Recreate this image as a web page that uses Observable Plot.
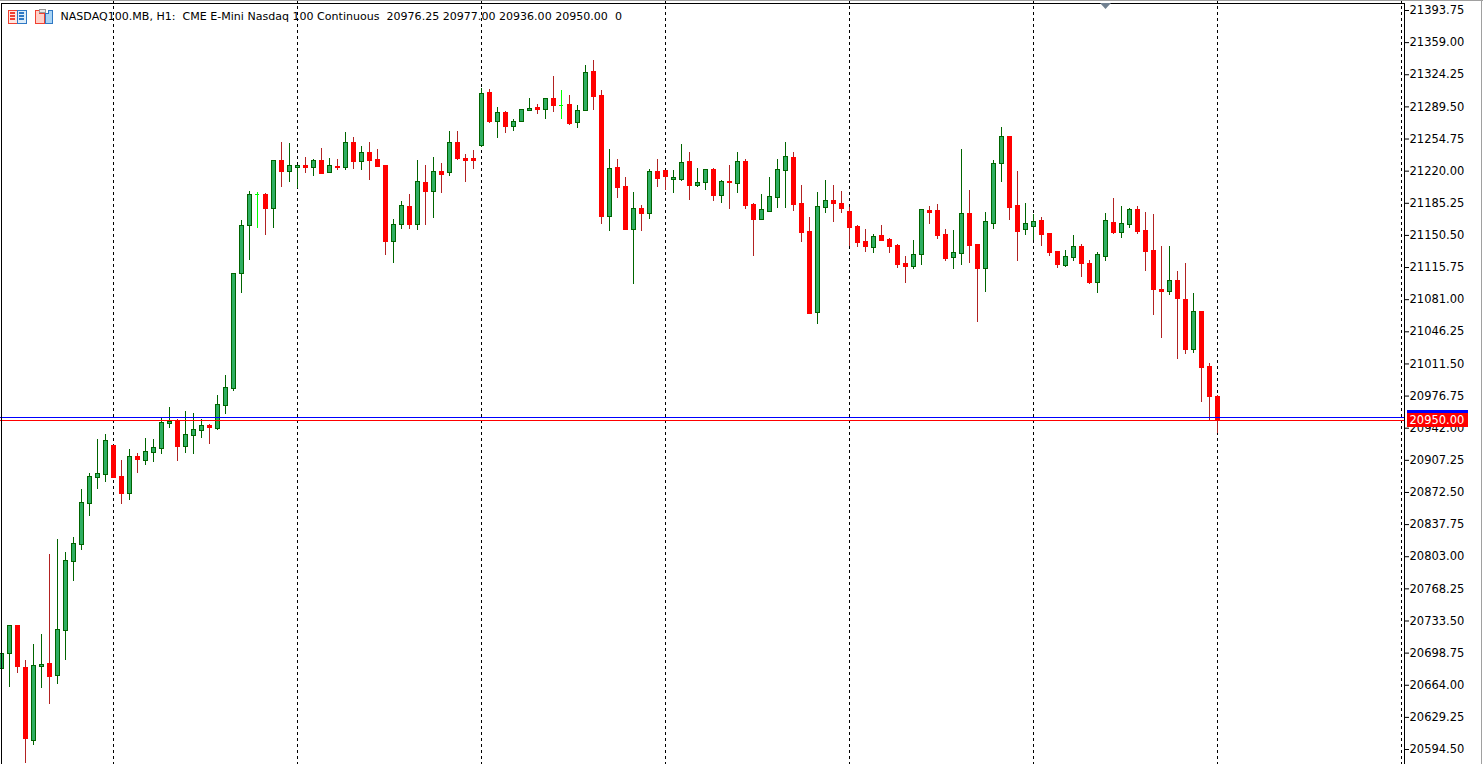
<!DOCTYPE html>
<html>
<head>
<meta charset="utf-8">
<script src="https://cdn.jsdelivr.net/npm/d3@7"></script>
<script src="https://cdn.jsdelivr.net/npm/@observablehq/plot@0.6"></script>
<style>
html,body{margin:0;padding:0;background:#fff;overflow:hidden}
#wrap{position:relative;width:1483px;height:764px;overflow:hidden}
#wrap>svg.chrome{position:absolute;left:0;top:0;pointer-events:none}
</style>
</head>
<body>
<div id="wrap"></div>
<script>
const opens = [20681.6,20697.8,20728.1,20682.6,20603.7,20683.7,20687.0,20674.0,20722.7,20797.3,20815.7,20860.0,20888.1,20891.4,20922.8,20889.2,20870.9,20910.8,20906.5,20915.1,20919.5,20946.6,20948.7,20921.7,20933.6,20939.0,20944.4,20941.2,20966.0,20984.4,21108.8,21160.7,21194.3,21194.3,21179.0,21231.0,21219.1,21223.4,21225.6,21223.4,21231.0,21218.0,21224.5,21223.4,21250.5,21229.9,21239.6,21232.1,21225.6,21143.4,21161.8,21181.2,21161.8,21207.2,21197.4,21219.1,21218.0,21250.5,21233.1,21233.1,21247.2,21304.5,21273.1,21283.0,21267.7,21273.1,21285.1,21288.3,21286.1,21298.0,21291.5,21291.5,21272.1,21285.1,21327.2,21301.3,21170.4,21223.4,21202.8,21156.4,21179.0,21173.6,21219.1,21220.2,21210.4,21210.4,21229.9,21203.9,21207.2,21221.3,21193.1,21208.3,21206.1,21229.9,21183.4,21167.2,21175.8,21191.0,21220.2,21234.2,21184.5,21154.2,21066.1,21180.1,21187.7,21184.5,21175.8,21159.6,21143.4,21136.9,21149.9,21145.5,21139.0,21119.6,21116.3,21129.3,21176.9,21176.9,21151.0,21126.1,21130.4,21173.6,21140.1,21114.2,21162.8,21227.7,21256.9,21182.3,21156.4,21159.6,21166.1,21152.0,21132.5,21117.4,21126.1,21138.0,21119.6,21099.0,21127.2,21163.9,21153.1,21161.8,21178.0,21155.3,21133.6,21091.5,21089.3,21101.2,21080.7,21026.6,21067.6,21008.2,20976.25];
const highs = [20697.8,20728.1,20728.1,20691.3,20707.6,20718.4,20804.9,20821.1,20808.1,20824.3,20876.2,20892.5,20929.3,20934.7,20922.8,20907.6,20919.5,20915.1,20931.4,20929.3,20952.0,20964.9,20950.9,20960.6,20957.4,20950.9,20945.5,20977.9,20998.5,21108.8,21166.1,21198.5,21196.4,21195.4,21231.0,21251.5,21249.4,21225.6,21235.3,21232.1,21244.0,21234.2,21233.1,21262.3,21255.9,21247.2,21250.5,21242.9,21225.6,21167.2,21187.7,21194.3,21231.0,21225.6,21235.3,21228.8,21263.4,21263.4,21237.5,21241.8,21309.9,21308.8,21288.3,21284.0,21276.4,21287.2,21299.1,21292.6,21299.1,21322.9,21306.7,21302.3,21290.5,21334.8,21340.2,21306.7,21243.9,21232.1,21212.6,21197.4,21182.4,21222.3,21232.1,21220.2,21220.2,21248.3,21240.7,21223.4,21222.3,21223.4,21210.4,21226.6,21240.7,21232.1,21184.5,21194.3,21212.6,21232.1,21250.5,21240.7,21205.0,21170.4,21197.4,21209.4,21205.0,21198.5,21181.2,21160.7,21156.4,21151.0,21160.7,21147.7,21141.2,21128.2,21144.5,21179.0,21182.3,21183.4,21156.4,21155.3,21242.9,21199.6,21140.1,21175.8,21231.0,21267.7,21258.0,21219.1,21184.5,21173.6,21170.4,21152.0,21133.6,21134.7,21149.9,21141.2,21123.9,21131.5,21174.7,21189.9,21182.3,21180.1,21182.3,21175.8,21173.6,21138.0,21139.0,21111.0,21119.6,21088.2,21068.7,21011.5,20977];
const lows = [20681.6,20662.1,20677.2,20578.9,20598.3,20660.0,20642.7,20664.3,20691.3,20776.7,20809.2,20847.0,20876.2,20883.8,20888.1,20859.0,20863.3,20893.5,20902.2,20905.4,20914.0,20941.2,20906.5,20915.1,20914.0,20931.4,20923.9,20939.0,20956.3,20982.2,21087.2,21123.9,21157.5,21149.9,21157.5,21202.8,21207.2,21200.7,21218.0,21213.7,21216.9,21218.0,21220.2,21220.2,21222.3,21220.2,21210.4,21224.5,21129.3,21120.6,21156.4,21156.4,21155.3,21160.7,21169.3,21195.4,21213.7,21231.0,21207.2,21221.3,21246.1,21271.0,21255.8,21260.2,21263.4,21273.1,21284.0,21281.8,21276.4,21283.0,21276.4,21269.9,21266.6,21285.1,21286.1,21161.8,21154.2,21189.9,21156.4,21096.9,21154.2,21167.2,21202.8,21199.6,21195.4,21208.3,21188.8,21201.8,21199.6,21187.7,21185.5,21179.0,21195.4,21178.0,21128.2,21166.1,21175.8,21180.1,21180.1,21176.9,21142.3,21065.0,21054.2,21174.7,21165.0,21174.7,21139.0,21136.9,21131.5,21130.4,21143.4,21130.4,21114.2,21099.0,21113.1,21118.5,21161.8,21146.6,21122.8,21113.1,21118.5,21120.6,21056.8,21089.3,21156.4,21207.2,21166.1,21122.8,21150.9,21144.5,21138.0,21128.2,21114.2,21115.3,21122.8,21105.5,21096.9,21088.2,21122.8,21151.0,21147.7,21157.5,21151.0,21112.0,21063.4,21039.5,21085.0,21015.8,21021.3,21023.3,20969.3,20949.8,20936];
const closes = [20697.8,20728.1,20683.7,20605.9,20684.8,20685.9,20672.9,20723.8,20798.4,20816.8,20861.1,20889.2,20892.5,20928.2,20888.1,20870.9,20910.8,20907.6,20916.2,20920.6,20947.6,20948.7,20921.7,20934.7,20940.1,20944.4,20942.3,20967.1,20985.5,21108.8,21160.7,21194.3,21194.3,21179.0,21231.0,21219.1,21225.6,21225.6,21223.4,21231.0,21216.9,21225.6,21223.4,21250.5,21229.9,21239.6,21231.0,21224.5,21143.4,21161.8,21182.4,21161.8,21208.3,21197.4,21219.1,21215.8,21250.5,21233.1,21231.0,21231.0,21303.5,21273.1,21283.0,21267.7,21273.1,21286.1,21287.2,21286.1,21298.0,21290.5,21291.5,21271.0,21285.1,21326.2,21300.2,21170.4,21222.3,21201.8,21156.4,21179.0,21173.6,21219.1,21211.5,21213.7,21212.6,21228.8,21203.9,21207.2,21221.3,21193.1,21208.3,21207.2,21229.9,21182.4,21167.2,21178.0,21192.0,21221.3,21235.3,21183.4,21153.1,21065.0,21181.2,21187.7,21184.5,21179.0,21158.5,21142.3,21138.0,21148.8,21144.5,21138.0,21118.5,21116.3,21129.3,21178.0,21174.7,21149.9,21125.0,21131.5,21173.6,21139.0,21114.2,21165.0,21227.7,21256.9,21180.1,21154.2,21162.8,21165.0,21150.9,21131.5,21118.5,21127.2,21138.0,21119.6,21099.0,21129.3,21166.1,21153.1,21162.8,21178.0,21154.2,21132.5,21091.5,21089.3,21101.2,21081.8,21026.6,21067.6,21007.1,20975.7,20950];
const priceTicks = [21393.75,21359.00,21324.25,21289.50,21254.75,21220.00,21185.25,21150.50,21115.75,21081.00,21046.25,21011.50,20976.75,20942.00,20907.25,20872.50,20837.75,20803.00,20768.25,20733.50,20698.75,20664.00,20629.25,20594.50];
const separators = [14,37,60,83,106,129,152,175];
const askPrice = 20954.00;
const bidPrice = 20950.00;
const titleText = "NASDAQ100.MB, H1:  CME E-Mini Nasdaq 100 Continuous  20976.25 20977.00 20936.00 20950.00  0";

const bars = opens.map((o,i)=>({i,open:o,high:highs[i],low:lows[i],close:closes[i]}));
const up = bars.filter(d=>d.close>d.open);
const down = bars.filter(d=>d.close<d.open);
const flat = bars.filter(d=>d.close===d.open);
const halfBody = 0.25;
const bodyOpts = {x1:d=>d.i-halfBody,x2:d=>d.i+halfBody,y1:"open",y2:"close",strokeWidth:1,shapeRendering:"crispEdges"};
const wickOpts = {x:"i",y1:"low",y2:"high",strokeWidth:1,shapeRendering:"crispEdges"};
const font = "'DejaVu Sans', sans-serif";

const chart = Plot.plot({
  width:1483,height:764,
  marginLeft:0,marginRight:79,marginTop:0,marginBottom:0,
  style:{fontFamily:font,fontSize:"11px",background:"transparent",color:"#000",overflow:"visible"},
  x:{type:"linear",domain:[-0.125,175.375],axis:null},
  y:{type:"linear",domain:[20577.75,21404.02],range:[764.5,0.5],axis:null},
  marks:[
    Plot.ruleX(separators,{x:d=>d,stroke:"#000",strokeWidth:1,strokeDasharray:"3,3",shapeRendering:"crispEdges"}),
    Plot.ruleX(up,{...wickOpts,stroke:"#006400"}),
    Plot.ruleX(down,{...wickOpts,stroke:"#B22222"}),
    Plot.ruleX(flat,{...wickOpts,stroke:"#00FF00"}),
    Plot.rect(up,{...bodyOpts,fill:"#2EAE62",stroke:"#006400"}),
    Plot.rect(down,{...bodyOpts,fill:"#FF0000",stroke:"#FF0000"}),
    Plot.ruleY(flat,{x1:d=>d.i-halfBody,x2:d=>d.i+halfBody,y:"close",stroke:"#00FF00",strokeWidth:1,shapeRendering:"crispEdges"}),
    Plot.ruleY([askPrice],{stroke:"#0000FF",strokeWidth:1,shapeRendering:"crispEdges"}),
    Plot.ruleY([bidPrice],{stroke:"#FF0000",strokeWidth:1,shapeRendering:"crispEdges"}),
    Plot.axisY({anchor:"right",ticks:priceTicks,tickFormat:d=>d.toFixed(2),tickSize:4,tickPadding:1,label:null,fontSize:11.5,stroke:"#000"}),
    Plot.rect([askPrice],{x1:175.75,x2:183.375,y1:d=>d+7.5,y2:d=>d-7.5,fill:"#0000FF",shapeRendering:"crispEdges"}),
    Plot.rect([bidPrice],{x1:175.75,x2:183.375,y1:d=>d+7.5,y2:d=>d-7.5,fill:"#FF0000",shapeRendering:"crispEdges"}),
    Plot.text([bidPrice],{x:176,y:d=>d,text:d=>d.toFixed(2),fill:"#fff",textAnchor:"start",fontSize:11.5}),
    Plot.text([titleText],{frameAnchor:"top-left",dx:60,dy:12,textAnchor:"start",lineAnchor:"top",fontSize:11.06,fill:"#000",fontFamily:font,style:"white-space:pre"})
  ]
});
document.getElementById("wrap").appendChild(chart);

const ns="http://www.w3.org/2000/svg";
const chrome=document.createElementNS(ns,"svg");
chrome.setAttribute("class","chrome");chrome.setAttribute("width",1483);chrome.setAttribute("height",764);
chrome.innerHTML=`
<g shape-rendering="crispEdges">
<rect x="0" y="0" width="1483" height="1" fill="#a0a0a0"/>
<rect x="1" y="3" width="1403" height="1" fill="#000"/>
<rect x="1" y="3" width="1" height="761" fill="#000"/>
<rect x="1404" y="3" width="1" height="761" fill="#000"/>
<rect x="1481" y="0" width="1" height="764" fill="#a0a0a0"/>
<rect x="8" y="10" width="9" height="13" fill="#ffe5e0" stroke="#f04030"/>
<rect x="17" y="10" width="9" height="13" fill="#dcecf9" stroke="#2f78c4"/>
<path d="M10 13h5M10 16h5M10 19h5" stroke="#f04030" stroke-width="2"/>
<path d="M19 13h5M19 16h5M19 19h5" stroke="#2f78c4" stroke-width="2"/>
<path d="M35 10h4v3h5v10h-9z" fill="#ffd0c8" stroke="#f04030"/>
<path d="M45 13h3v-3h4v13h-7z" fill="#a9d4f5" stroke="#2f78c4"/>
<rect x="39" y="9" width="6" height="3" fill="#e8e8e8" stroke="#999"/>
</g>
<polygon points="1100,3 1111,3 1105.5,9" fill="#708090"/>`;
document.getElementById("wrap").appendChild(chrome);
</script>
</body>
</html>
